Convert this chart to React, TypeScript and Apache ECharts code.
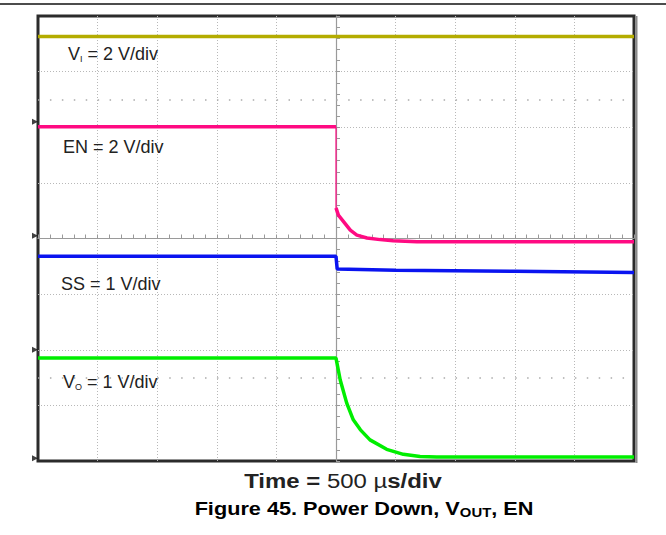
import React, { useEffect, useRef } from "react";
import * as echarts from "echarts";

// Oscilloscope traces, in divisions (x: -5..5 time divisions, y: -4..4 vertical divisions)
const viTrace: number[][] = [[-5, 3.63], [5, 3.63]];
const enHigh: number[][] = [[-5, 2.01], [0.0, 2.01]];
const enEdge: number[][] = [[0.0, 2.01], [0.0, 0.55]];
const enDecay: number[][] = [
  [0.0, 0.55], [0.04, 0.42], [0.13, 0.3], [0.24, 0.15],
  [0.35, 0.06], [0.52, 0.01], [0.74, -0.02], [0.96, -0.04], [1.36, -0.06], [5, -0.06],
];
const ssTrace: number[][] = [
  [-5, -0.32], [0.0, -0.32], [0.02, -0.55], [1.0, -0.57], [3.0, -0.59], [5, -0.61],
];
const voTrace: number[][] = [
  [-5, -2.15], [0.0, -2.15], [0.07, -2.54], [0.18, -2.96], [0.29, -3.26], [0.41, -3.44],
  [0.57, -3.62], [0.85, -3.79], [1.13, -3.88], [1.41, -3.92], [1.69, -3.93], [5, -3.93],
];
// channel ground markers on the left edge
const groundMarkers: number[][] = [[-5, 2.1], [-5, 0.05], [-5, -2.0], [-5, -3.95]];
const cursorRows: number[] = [2.5, -2.5];

const channelLabels = [
  { text: "V{s|I} = 2 V/div", x: 68, y: 54 },
  { text: "EN = 2 V/div", x: 63, y: 147 },
  { text: "SS = 1 V/div", x: 61, y: 284 },
  { text: "V{s|O} = 1 V/div", x: 63, y: 382 },
];

const FONT = "Arial, 'Liberation Sans', Helvetica, sans-serif";

export default function App() {
  const ref = useRef<HTMLDivElement>(null);
  useEffect(() => {
    if (!ref.current) return;
    const chart = echarts.init(ref.current, null, { renderer: "svg" });
    const trace = (color: string, data: number[][], z: number, width = 3.5) => ({
      type: "line" as const,
      data,
      z,
      showSymbol: false,
      symbol: "none",
      silent: true,
      clip: false,
      lineStyle: { color, width },
    });
    const axisCommon = {
      type: "value" as const,
      interval: 1,
      axisLabel: { show: false },
      axisLine: { show: true, onZero: true, lineStyle: { color: "#9a9a9a", width: 1.2 } },
      axisTick: { show: true, inside: true, length: 4, lineStyle: { color: "#9a9a9a" } },
      minorTick: { show: true, splitNumber: 5, length: 4, lineStyle: { color: "#9a9a9a" } },
      splitLine: {
        show: true, showMinLine: false, showMaxLine: false,
        lineStyle: { color: "#b8b8b8", type: [1, 2], width: 1 },
      },
    };
    chart.setOption({
      animation: false,
      backgroundColor: "#ffffff",
      grid: {
        left: 38, top: 16, right: 32, bottom: 74,
        show: true, borderColor: "#2b2b2b", borderWidth: 3,
      },
      xAxis: { ...axisCommon, min: -5, max: 5 },
      yAxis: { ...axisCommon, min: -4, max: 4 },
      series: [
        {
          ...trace("#00ee00", voTrace, 3),
          markLine: {
            silent: true, symbol: "none", label: { show: false },
            lineStyle: { color: "#aaaaaa", type: [1.5, 10.43], width: 1.5 },
            data: cursorRows.map((v) => ({ yAxis: v })),
          },
        },
        trace("#0a14f0", ssTrace, 4),
        trace("#ff0a82", enHigh, 5),
        trace("#ff0a82", enEdge, 5, 1.2),
        trace("#ff0a82", enDecay, 5),
        trace("#b4ac00", viTrace, 6),
        {
          type: "scatter", data: groundMarkers, symbol: "triangle", symbolRotate: -90,
          symbolSize: 6, symbolOffset: [-3, 0], clip: false, silent: true,
          itemStyle: { color: "#111" }, z: 7,
        },
      ],
      graphic: [
        { type: "line", shape: { x1: 0, y1: 4, x2: 666, y2: 4 }, style: { stroke: "#111", lineWidth: 1.5 } },
        { type: "line", shape: { x1: 636.5, y1: 16, x2: 636.5, y2: 463 }, style: { stroke: "#8a8a8a", lineWidth: 2 } },
        ...channelLabels.map((l) => ({
          type: "text", x: l.x, y: l.y, z: 10,
          style: {
            text: l.text, fill: "#222", font: `18px ${FONT}`,
            verticalAlign: "middle", align: "left",
            rich: { s: { fontSize: 9, fill: "#222", fontFamily: FONT, padding: [9, 0, 0, 0] } },
          },
        })),
        {
          type: "text", x: 343, y: 481, z: 10, scaleX: 1.14,
          style: {
            text: "{b|Time = }{r|500 µ}{b|s/div}", align: "center", verticalAlign: "middle",
            rich: {
              b: { fontSize: 21, fontWeight: "bold", fill: "#222", fontFamily: FONT },
              r: { fontSize: 21, fill: "#222", fontFamily: FONT },
            },
          },
        },
        {
          type: "text", x: 364, y: 509, z: 10, scaleX: 1.24,
          style: {
            text: "{b|Figure 45. Power Down, V}{s|OUT}{b|, EN}", align: "center", verticalAlign: "middle",
            rich: {
              b: { fontSize: 17.5, fontWeight: "bold", fill: "#000", fontFamily: FONT },
              s: { fontSize: 12, fontWeight: "bold", fill: "#000", fontFamily: FONT, padding: [8, 0, 0, 0] },
            },
          },
        },
      ],
    });
    return () => chart.dispose();
  }, []);
  return (
    <div
      ref={ref}
      style={{ position: "fixed", left: 0, top: 0, width: 666, height: 535, background: "#fff" }}
    />
  );
}
